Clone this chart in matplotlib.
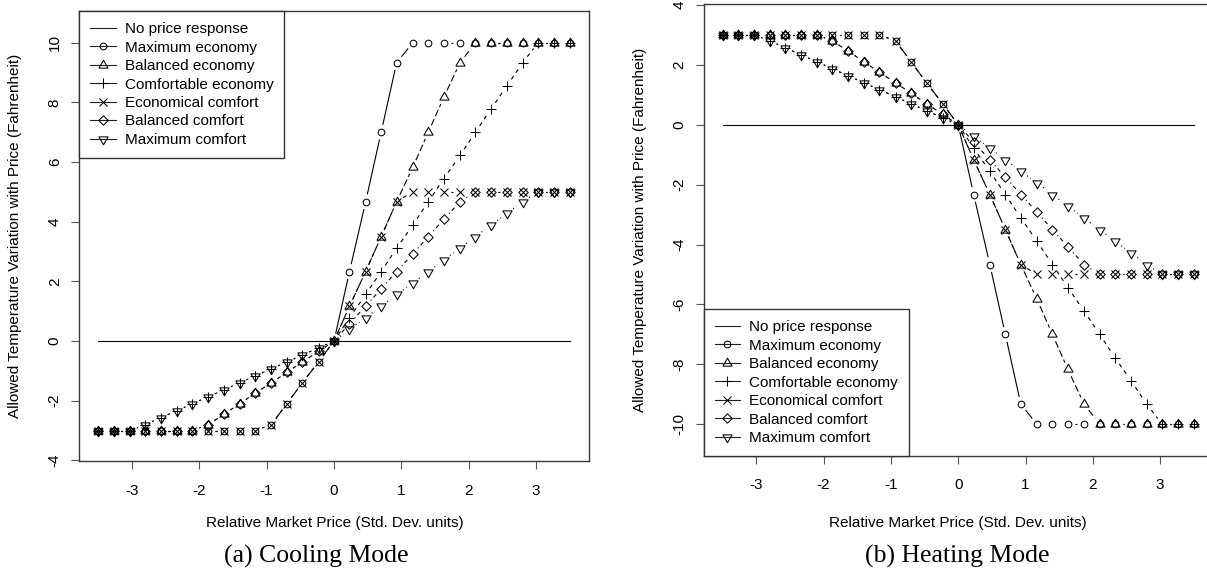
import numpy as np
import matplotlib
matplotlib.use('Agg')
import matplotlib.pyplot as plt
from matplotlib.path import Path
from matplotlib.lines import Line2D

# ---------------- data ----------------
price = [-3.5, -3.27, -3.03, -2.8, -2.57, -2.33, -2.1, -1.87, -1.63, -1.4, -1.17,
         -0.93, -0.7, -0.47, -0.23, 0.0, 0.23, 0.47, 0.7, 0.93, 1.17, 1.4, 1.63,
         1.87, 2.1, 2.33, 2.57, 2.8, 3.03, 3.27, 3.5]

no_resp_x = [-3.5, 3.5]
no_resp_y = [0, 0]

series_names = ["Maximum economy", "Balanced economy", "Comfortable economy",
                "Economical comfort", "Balanced comfort", "Maximum comfort"]

cool_max_econ = [-3, -3, -3, -3, -3, -3, -3, -3, -3, -3, -3, -2.8, -2.1, -1.4, -0.7, 0,
                 2.33, 4.67, 7.0, 9.33, 10, 10, 10, 10, 10, 10, 10, 10, 10, 10, 10]
cool_bal_econ = [-3, -3, -3, -3, -3, -3, -3, -2.8, -2.45, -2.1, -1.75, -1.4, -1.05, -0.7, -0.35, 0,
                 1.17, 2.33, 3.5, 4.67, 5.83, 7.0, 8.17, 9.33, 10, 10, 10, 10, 10, 10, 10]
cool_comf_econ = [-3, -3, -3, -2.8, -2.57, -2.33, -2.1, -1.87, -1.63, -1.4, -1.17, -0.93, -0.7, -0.47, -0.23, 0,
                  0.78, 1.56, 2.33, 3.11, 3.89, 4.67, 5.44, 6.22, 7.0, 7.78, 8.56, 9.33, 10, 10, 10]
cool_econ_comf = [-3, -3, -3, -3, -3, -3, -3, -3, -3, -3, -3, -2.8, -2.1, -1.4, -0.7, 0,
                  1.17, 2.33, 3.5, 4.67, 5, 5, 5, 5, 5, 5, 5, 5, 5, 5, 5]
cool_bal_comf = [-3, -3, -3, -3, -3, -3, -3, -2.8, -2.45, -2.1, -1.75, -1.4, -1.05, -0.7, -0.35, 0,
                 0.58, 1.17, 1.75, 2.33, 2.92, 3.5, 4.08, 4.67, 5, 5, 5, 5, 5, 5, 5]
cool_max_comf = [-3, -3, -3, -2.8, -2.57, -2.33, -2.1, -1.87, -1.63, -1.4, -1.17, -0.93, -0.7, -0.47, -0.23, 0,
                 0.39, 0.78, 1.17, 1.56, 1.94, 2.33, 2.72, 3.11, 3.5, 3.89, 4.28, 4.67, 5, 5, 5]

heat_max_econ = [3, 3, 3, 3, 3, 3, 3, 3, 3, 3, 3, 2.8, 2.1, 1.4, 0.7, 0,
                 -2.33, -4.67, -7.0, -9.33, -10, -10, -10, -10, -10, -10, -10, -10, -10, -10, -10]
heat_bal_econ = [3, 3, 3, 3, 3, 3, 3, 2.8, 2.45, 2.1, 1.75, 1.4, 1.05, 0.7, 0.35, 0,
                 -1.17, -2.33, -3.5, -4.67, -5.83, -7.0, -8.17, -9.33, -10, -10, -10, -10, -10, -10, -10]
heat_comf_econ = [3, 3, 3, 2.8, 2.57, 2.33, 2.1, 1.87, 1.63, 1.4, 1.17, 0.93, 0.7, 0.47, 0.23, 0,
                  -0.78, -1.56, -2.33, -3.11, -3.89, -4.67, -5.44, -6.22, -7.0, -7.78, -8.56, -9.33, -10, -10, -10]
heat_econ_comf = [3, 3, 3, 3, 3, 3, 3, 3, 3, 3, 3, 2.8, 2.1, 1.4, 0.7, 0,
                  -1.17, -2.33, -3.5, -4.67, -5, -5, -5, -5, -5, -5, -5, -5, -5, -5, -5]
heat_bal_comf = [3, 3, 3, 3, 3, 3, 3, 2.8, 2.45, 2.1, 1.75, 1.4, 1.05, 0.7, 0.35, 0,
                 -0.58, -1.17, -1.75, -2.33, -2.92, -3.5, -4.08, -4.67, -5, -5, -5, -5, -5, -5, -5]
heat_max_comf = [3, 3, 3, 2.8, 2.57, 2.33, 2.1, 1.87, 1.63, 1.4, 1.17, 0.93, 0.7, 0.47, 0.23, 0,
                 -0.39, -0.78, -1.17, -1.56, -1.94, -2.33, -2.72, -3.11, -3.5, -3.89, -4.28, -4.67, -5, -5, -5]

cool_series = [cool_max_econ, cool_bal_econ, cool_comf_econ, cool_econ_comf, cool_bal_comf, cool_max_comf]
heat_series = [heat_max_econ, heat_bal_econ, heat_comf_econ, heat_econ_comf, heat_bal_comf, heat_max_comf]

cool_yticks = [-4, -2, 0, 2, 4, 6, 8, 10]
heat_yticks = [-10, -8, -6, -4, -2, 0, 2, 4]
xticks = [-3, -2, -1, 0, 1, 2, 3]

# ---------------- style ----------------
plt.rcParams['font.family'] = ['Liberation Sans', 'DejaVu Sans']
plt.rcParams['lines.scale_dashes'] = False

tri_up = Path([(0, 1), (-0.866, -0.5), (0.866, -0.5), (0, 1)], closed=True)
tri_dn = Path([(0, -1), (-0.866, 0.5), (0.866, 0.5), (0, -1)], closed=True)
diamond = Path([(0, 1), (1, 0), (0, -1), (-1, 0), (0, 1)], closed=True)

styles = [
    dict(marker='o', ms=4.8, ls='-'),
    dict(marker=tri_up, ms=7.6, ls=(0, (5.0, 2.2))),
    dict(marker='+', ms=7.0, ls=(0, (2.9, 2.9))),
    dict(marker='x', ms=5.4, ls=(0, (2.9, 2.9))),
    dict(marker=diamond, ms=6.8, ls=(0, (0.8, 2.2, 2.9, 2.2))),
    dict(marker=tri_dn, ms=7.6, ls=(0, (0.8, 2.2, 2.9, 2.2))),
]

W, H = 1207, 573
fig = plt.figure(figsize=(W / 100, H / 100), dpi=100)

ax1 = fig.add_axes([79.3 / W, (H - 461.3) / H, 509.4 / W, 450.0 / H])
ax2 = fig.add_axes([703.7 / W, (H - 456.0) / H, 509.0 / W, 451.7 / H])

ax1.set_xlim(-3.78, 3.78)
ax1.set_ylim(-4.03, 11.05)
ax2.set_xlim(-3.78, 3.78)
ax2.set_ylim(-11.06, 4.02)

GAP = 7.5  # pixel gap around points (R type="b")
LW = 0.8


def draw_series(ax, x, y, st):
    pts = ax.transData.transform(np.column_stack([x, y]))
    inv = ax.transData.inverted()
    for i in range(len(x) - 1):
        p0, p1 = pts[i], pts[i + 1]
        d = p1 - p0
        L = np.hypot(d[0], d[1])
        if L <= 2 * GAP + 0.5:
            continue
        u = d / L
        seg = inv.transform(np.vstack([p0 + u * GAP, p1 - u * GAP]))
        ax.plot(seg[:, 0], seg[:, 1], color='black', lw=LW, linestyle=st['ls'],
                solid_capstyle='butt', dash_capstyle='butt', zorder=2)
    ax.plot(x, y, linestyle='none', marker=st['marker'], ms=st['ms'],
            mfc='none', mec='black', mew=0.75, zorder=3)


for ax, data, yt in [(ax1, cool_series, cool_yticks), (ax2, heat_series, heat_yticks)]:
    ax.plot(no_resp_x, no_resp_y, color='black', lw=LW, zorder=1)
    for y, st in zip(data, styles):
        draw_series(ax, price, y, st)
    ax.set_xticks(xticks)
    ax.set_yticks(yt)
    ax.set_xticklabels([str(v) for v in xticks])
    ax.set_yticklabels([str(v) for v in yt])
    for sp in ax.spines.values():
        sp.set_color('#3a3a3a')
        sp.set_linewidth(1.0)
    ax.tick_params(axis='both', direction='out', length=6.1, width=0.8,
                   color='#555555', labelsize=11, labelcolor='black')
    ax.tick_params(axis='x', pad=10.0)
    ax.tick_params(axis='y', pad=6.5)
    for lab in ax.get_yticklabels():
        lab.set_rotation(90)
        lab.set_va('center')

    handles = [Line2D([0], [0], color='#222222', lw=LW)]
    for st in styles:
        handles.append(Line2D([0], [0], color='#222222', lw=LW, marker=st['marker'],
                              ms=st['ms'], mfc='none', mec='black', mew=0.75))
    labels = ["No price response"] + series_names
    if ax is ax1:
        loc, anchor = 'upper left', (0, 1)
    else:
        loc, anchor = 'lower left', (0, 0)
    leg = ax.legend(handles, labels, loc=loc, bbox_to_anchor=anchor, borderaxespad=0,
                    frameon=True, fancybox=False, framealpha=1, edgecolor='#333333',
                    fontsize=11, handlelength=1.65, handletextpad=0.6,
                    labelspacing=0.29, borderpad=0.72, numpoints=1)
    leg.get_frame().set_linewidth(1.0)

ylab = "Allowed Temperature Variation with Price (Fahrenheit)"
xlab = "Relative Market Price (Std. Dev. units)"
fig.text(15 / W, 1 - 236 / H, ylab, rotation=90, ha='center', va='center', fontsize=11)
fig.text(640 / W, 1 - 230 / H, ylab, rotation=90, ha='center', va='center', fontsize=11)
fig.text(335 / W, 1 - 523 / H, xlab, ha='center', va='center', fontsize=11)
fig.text(958 / W, 1 - 523 / H, xlab, ha='center', va='center', fontsize=11)
fig.text(316 / W, 1 - 556 / H, "(a) Cooling Mode", ha='center', va='center',
         fontsize=18.5, family=['Liberation Serif', 'DejaVu Serif'])
fig.text(957 / W, 1 - 556 / H, "(b) Heating Mode", ha='center', va='center',
         fontsize=18.5, family=['Liberation Serif', 'DejaVu Serif'])

fig.savefig('out.png', dpi=100)
